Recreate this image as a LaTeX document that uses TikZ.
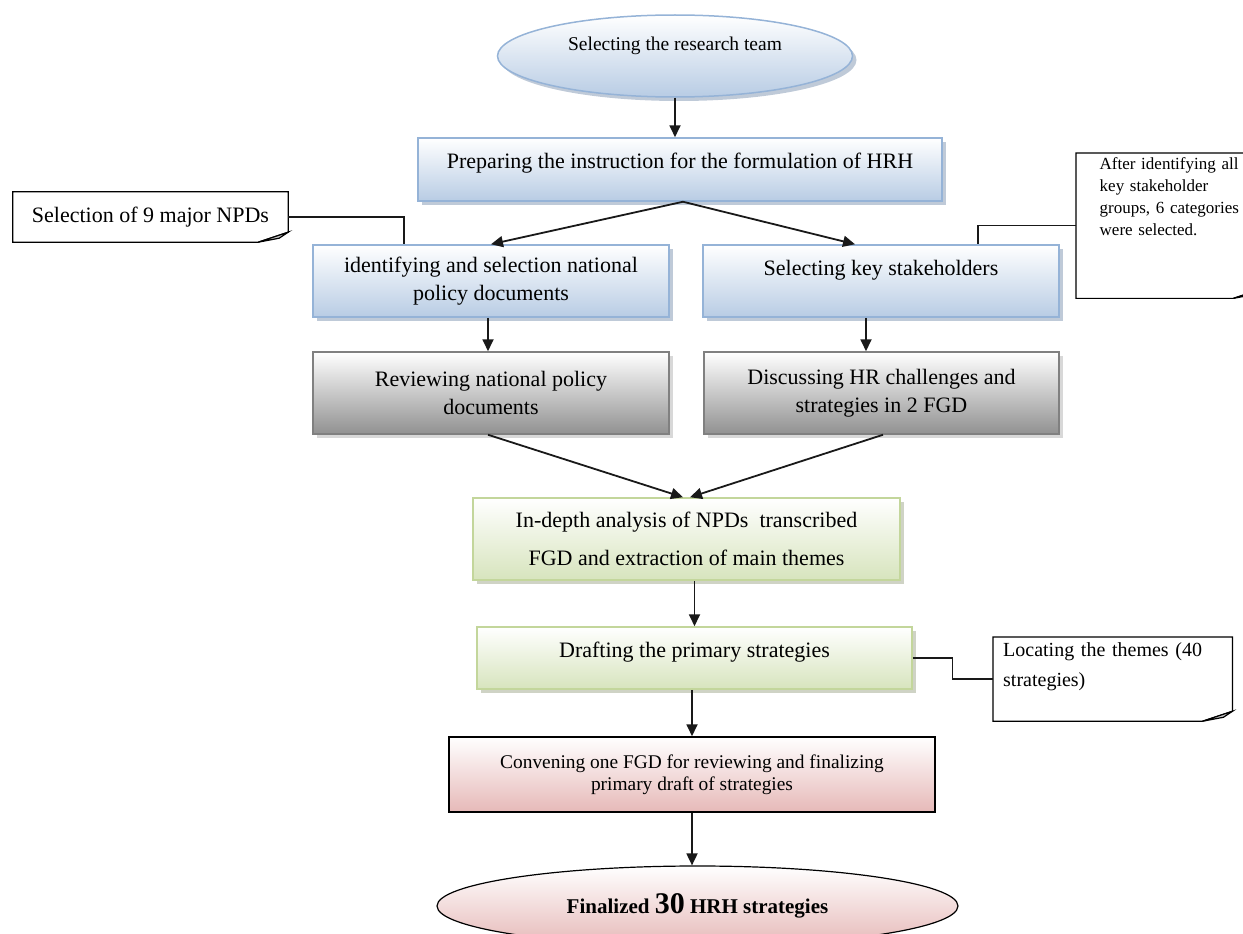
\documentclass[tikz,border=0pt]{standalone}
\usepackage{fontspec}
\setmainfont{Liberation Serif}
\usetikzlibrary{arrows.meta,shadows,shapes.geometric}

\definecolor{blueline}{RGB}{149,179,215}
\definecolor{bluefill}{RGB}{184,204,228}
\definecolor{blueshade}{RGB}{128,150,178}
\definecolor{grayline}{RGB}{128,128,128}
\definecolor{grayfill}{RGB}{145,145,145}
\definecolor{grayshade}{RGB}{178,178,178}
\definecolor{greenline}{RGB}{195,214,155}
\definecolor{greenfill}{RGB}{215,228,189}
\definecolor{greenshade}{RGB}{160,168,140}
\definecolor{pinkfill}{RGB}{230,185,184}

\tikzset{
  stage/.style={rectangle, align=center, line width=1.5pt, inner sep=0pt,
    font=\fontsize{22}{28}\selectfont},
  bluestage/.style={stage, draw=blueline, top color=white, bottom color=bluefill,
    drop shadow={shadow xshift=4pt, shadow yshift=-4pt, fill=blueshade}},
  graystage/.style={stage, draw=grayline, top color=white, bottom color=grayfill,
    drop shadow={shadow xshift=4pt, shadow yshift=-4pt, fill=grayshade}},
  greenstage/.style={stage, draw=greenline, top color=white, bottom color=greenfill,
    drop shadow={shadow xshift=4pt, shadow yshift=-4pt, fill=greenshade}},
  pinkstage/.style={stage, draw=black, top color=white, bottom color=pinkfill},
  blueellipse/.style={ellipse, draw=blueline, line width=1.5pt, inner sep=0pt,
    top color=white, bottom color=bluefill, font=\fontsize{19.5}{24}\selectfont,
    drop shadow={shadow xshift=4pt, shadow yshift=-4pt, fill=blueshade}},
  pinkellipse/.style={ellipse, draw=black, line width=1.2pt, inner sep=0pt,
    top color=white, bottom color=pinkfill, font=\fontsize{21}{24}\selectfont},
  note/.style={rectangle, inner sep=0pt},
  notebox/.style={draw=black, line width=1.2pt},
  flow/.style={-{Triangle[length=12pt,width=11pt]}, line width=1.8pt, black!90},
  link/.style={line width=1.3pt, black!90}
}

\begin{document}
\begin{tikzpicture}[x=1pt,y=-1pt]
  \useasboundingbox (0,0) rectangle (1243,934);

  % main column
  \node[blueellipse, minimum width=355pt, minimum height=82pt, text depth=24pt] (team) at (675,56) {Selecting the research team};
  \node[bluestage, minimum width=524pt, minimum height=63pt, text depth=17pt] (prep) at (680,169.5) {Preparing the instruction for the formulation of HRH};

  \node[bluestage, minimum width=356pt, minimum height=72pt] (ident) at (491,281) {identifying and selection national\\policy documents};
  \node[bluestage, minimum width=356pt, minimum height=72pt, text depth=27pt] (stake) at (881,281) {Selecting key stakeholders};
  \node[graystage, minimum width=356pt, minimum height=82pt] (review) at (491,393) {Reviewing national policy\\documents};
  \node[graystage, minimum width=355pt, minimum height=82pt] (discuss) at (881.5,393) {Discussing HR challenges and\\strategies in 2 FGD};

  \node[greenstage, minimum width=427pt, minimum height=82pt, font=\fontsize{22}{38}\selectfont] (analysis) at (686.5,539) {In-depth analysis of NPDs\ \ transcribed\\FGD and extraction of main themes};
  \node[greenstage, minimum width=435pt, minimum height=62pt, text depth=17pt] (draft) at (694.5,658) {Drafting the primary strategies};
  \node[pinkstage, minimum width=486pt, minimum height=75pt, font=\fontsize{19.4}{22}\selectfont] (convene) at (692,774.5) {Convening one FGD for reviewing and finalizing\\primary draft of strategies};
  \node[pinkellipse, minimum width=521pt, minimum height=80pt] (final) at (697.5,906) {\textbf{Finalized {\fontsize{30}{30}\selectfont 30} HRH strategies}};

  % side notes
  \node[note, minimum width=275pt, minimum height=50pt, font=\fontsize{22}{26}\selectfont] (npd) at (150.5,217) {Selection of 9 major NPDs};
  \node[note, anchor=north west, inner xsep=23.5pt, inner ysep=4pt, text width=140pt, align=left,
    font=\fontsize{17}{22}\selectfont] (groups) at (1076,153)
    {After identifying all\\key stakeholder\\groups, 6 categories\\were selected.\par\vspace{37pt}\mbox{}};
  \node[note, anchor=north west, inner xsep=10pt, inner ysep=5pt, text width=219pt, align=left,
    font=\fontsize{20}{30}\selectfont] (themes) at (993,637)
    {Locating the themes (40\\strategies)\par\mbox{}};

  \foreach \n in {npd,groups,themes} {
    \draw[notebox] (\n.north west) -- (\n.north east) -- ([yshift=10pt]\n.south east)
      -- ([xshift=-30pt]\n.south east) -- (\n.south west) -- cycle;
    \filldraw[notebox, fill=gray!45] ([yshift=10pt]\n.south east) -- ([xshift=-30pt]\n.south east)
      -- ([xshift=-9pt,yshift=4pt]\n.south east) -- cycle;
  }

  % connectors
  \draw[flow] (team.south) -- (team.south |- prep.north);
  \draw[flow] ([xshift=3pt]prep.south) -- (ident.north);
  \draw[flow] ([xshift=3pt]prep.south) -- ([xshift=-26pt]stake.north);
  \draw[flow] ([xshift=-3pt]ident.south) -- ([xshift=-3pt]review.north);
  \draw[flow] ([xshift=-15pt]stake.south) -- ([xshift=-15.5pt]discuss.north);
  \draw[flow] ([xshift=-3pt]review.south) -- ([xshift=-3.5pt]analysis.north);
  \draw[flow] ([xshift=1.5pt]discuss.south) -- ([xshift=3.5pt]analysis.north);
  \draw[flow] (analysis.south -| draft.north) -- (draft.north);
  \draw[flow] (draft.south -| convene.north) -- (convene.north);
  \draw[flow] (convene.south) -- (convene.south |- final.north);

  \draw[link] (npd.east) -| ([xshift=-87pt]ident.north);
  \draw[link] (groups.west) -| ([xshift=97pt]stake.north);
  \draw[link] (draft.east) -- ++(40,0) |- (themes.west);
\end{tikzpicture}
\end{document}
